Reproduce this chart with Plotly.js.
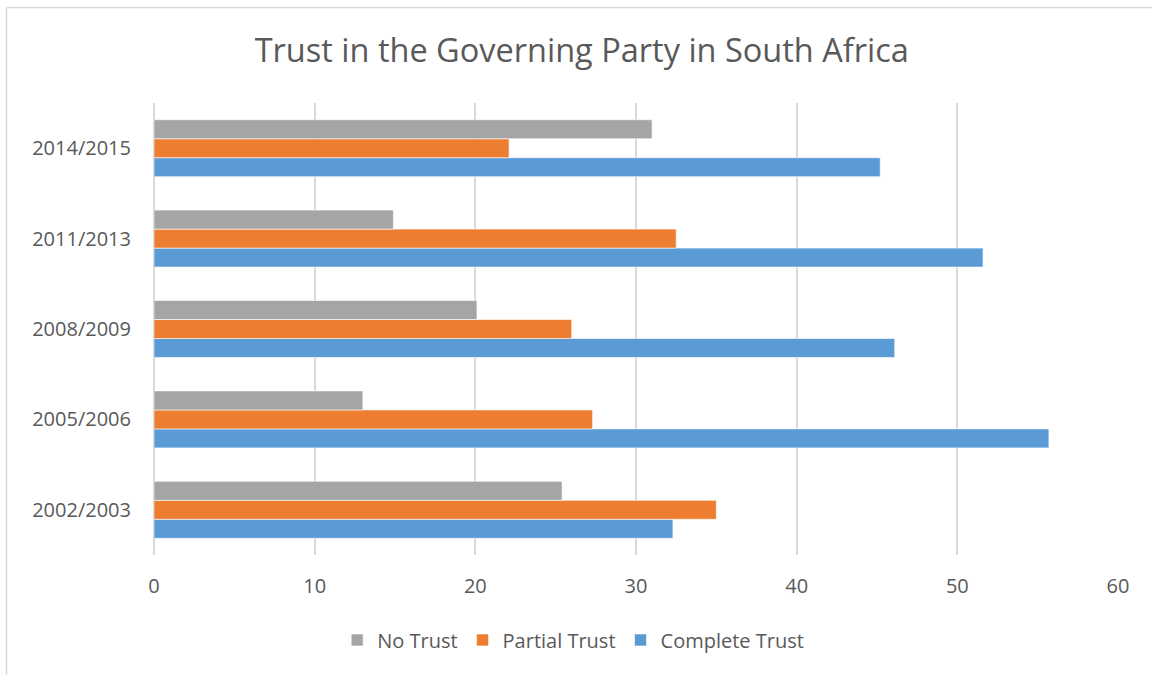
<!DOCTYPE html>
<html>
<head>
<meta charset="utf-8">
<script src="https://cdn.plot.ly/plotly-3.0.1.min.js"></script>
<style>html,body{margin:0;padding:0;background:#fff;}#chart{width:1152px;height:675px;}</style>
</head>
<body>
<div id="chart"></div>
<script>
// Categories (bottom to top)
const periods = ["2002/2003", "2005/2006", "2008/2009", "2011/2013", "2014/2015"];
// Series values (%)
const completeTrust = [32.3, 55.7, 46.1, 51.6, 45.2];
const partialTrust  = [35.0, 27.3, 26.0, 32.5, 22.1];
const noTrust       = [25.4, 13.0, 20.1, 14.9, 31.0];
const xTicks = [0, 10, 20, 30, 40, 50, 60];

const fontFam = "Open Sans, sans-serif";
const txtColor = "#595959";

function bar(name, vals, color) {
  return {
    type: "bar", orientation: "h", name: name,
    y: periods, x: vals,
    marker: {color: color, line: {color: "rgba(255,255,255,0.6)", width: 1}},
    hoverinfo: "x+name"
  };
}

const data = [
  bar("Complete Trust", completeTrust, "#5B9BD5"),
  bar("Partial Trust", partialTrust, "#ED7D31"),
  bar("No Trust", noTrust, "#A5A5A5")
];

const layout = {
  width: 1152, height: 675,
  paper_bgcolor: "#fff", plot_bgcolor: "#fff",
  margin: {l: 154, r: 34, t: 103, b: 120},
  title: {text: "Trust in the Governing Party in South Africa",
          font: {family: fontFam, size: 32.5, color: txtColor},
          x: 0.505, xanchor: "center", y: 0.925, yanchor: "middle"},
  barmode: "group", bargap: 0.37, bargroupgap: 0,
  xaxis: {range: [0, 60], tickvals: xTicks, ticktext: xTicks.map(String),
          showgrid: true, gridcolor: "#D9D9D9", gridwidth: 1.8,
          zeroline: true, zerolinecolor: "#D9D9D9", zerolinewidth: 1.8,
          showline: false, ticks: "", ticklabelstandoff: 17,
          tickfont: {family: fontFam, size: 20, color: txtColor}, fixedrange: true},
  yaxis: {type: "category", showgrid: false, zeroline: false, showline: false,
          ticks: "", ticklabelstandoff: 22,
          tickfont: {family: fontFam, size: 20, color: txtColor}, fixedrange: true},
  legend: {orientation: "h", traceorder: "reversed", x: 0.19, xanchor: "left",
           y: -0.188, yanchor: "middle",
           font: {family: fontFam, size: 20, color: txtColor}},
  shapes: [
    {type: "line", xref: "paper", yref: "paper", x0: -0.153, x1: 1.1, y0: 1.2113, y1: 1.2113,
     line: {color: "#D9D9D9", width: 1.5}},
    {type: "line", xref: "paper", yref: "paper", x0: -0.153, x1: -0.153, y0: 1.2113, y1: -0.3,
     line: {color: "#D9D9D9", width: 1.5}}
  ],
  showlegend: true
};

Plotly.newPlot("chart", data, layout, {displayModeBar: false, staticPlot: true});
</script>
</body>
</html>
